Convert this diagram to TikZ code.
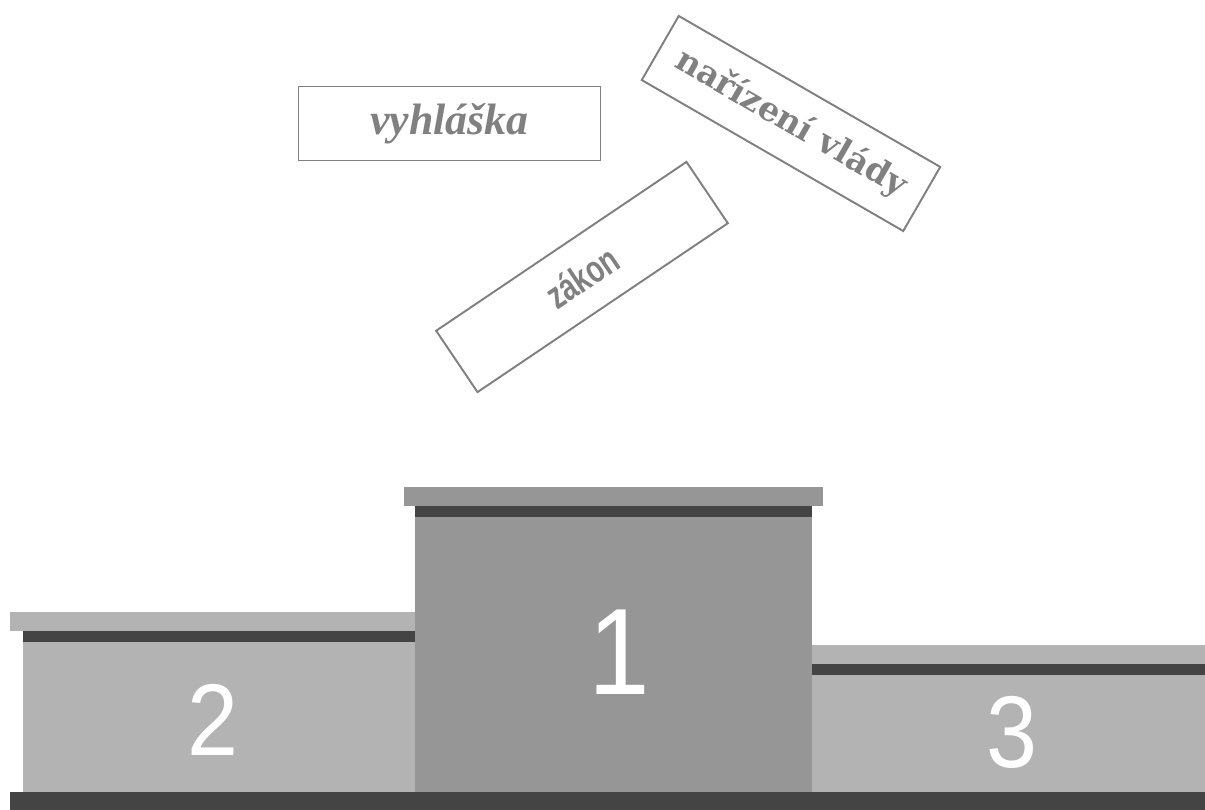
\documentclass[tikz,border=0pt]{standalone}
\usepackage{fontspec}
\setmainfont{Liberation Sans}
\newfontfamily\vyhfont{Liberation Serif}
\newfontfamily\narfont{DejaVu Serif}
\newfontfamily\zakfont[FakeStretch=0.72]{Liberation Sans}
\newfontfamily\numfont[FakeStretch=0.9]{Liberation Sans}
\definecolor{darkstrip}{HTML}{444444}
\definecolor{lightstep}{HTML}{B3B3B3}
\definecolor{midstep}{HTML}{969696}
\definecolor{labelgray}{HTML}{808080}
\begin{document}
\begin{tikzpicture}[
            x = 0.02cm, y = -0.02cm,
            lawbox/.style = {draw = labelgray, line width = 1.1pt, text = labelgray,
                             minimum width = 6.04cm, minimum height = 1.48cm, inner sep = 0mm},
            place/.style = {text = white, inner sep = 0mm},
        ]
        \useasboundingbox (0,0) rectangle (1205,810);

        % the three papers
        \node (VYH) [lawbox] at (449.5,123.5)
            {\vyhfont\bfseries\itshape\fontsize{25}{27}\selectfont vyhláška};
        \node (NAR) [lawbox, rotate = -30] at (791,123.5)
            {\narfont\bfseries\fontsize{19}{21}\selectfont nařízení vlády};
        \node (ZAK) [lawbox, rotate = 34] at (582,277)
            {\zakfont\bfseries\fontsize{22}{24}\selectfont zákon};

        % podium
        \fill[lightstep] (10,612) rectangle (415,631);
        \fill[darkstrip] (23,631) rectangle (415,642);
        \fill[lightstep] (23,642) rectangle (415,792);

        \fill[midstep] (404,487) rectangle (823,506);
        \fill[darkstrip] (415,506) rectangle (812,517);
        \fill[midstep] (415,517) rectangle (812,792);

        \fill[lightstep] (812,645) rectangle (1205,664);
        \fill[darkstrip] (812,664) rectangle (1205,675);
        \fill[lightstep] (812,675) rectangle (1205,792);

        \fill[darkstrip] (10,792) rectangle (1205,810);

        \node (P1) [place, font = \numfont\fontsize{70}{72}\selectfont] at (619,652) {1};
        \node (P2) [place, font = \numfont\fontsize{58}{60}\selectfont] at (213,719.5) {2};
        \node (P3) [place, font = \numfont\fontsize{58}{60}\selectfont] at (1012,732) {3};
    \end{tikzpicture}
\end{document}
